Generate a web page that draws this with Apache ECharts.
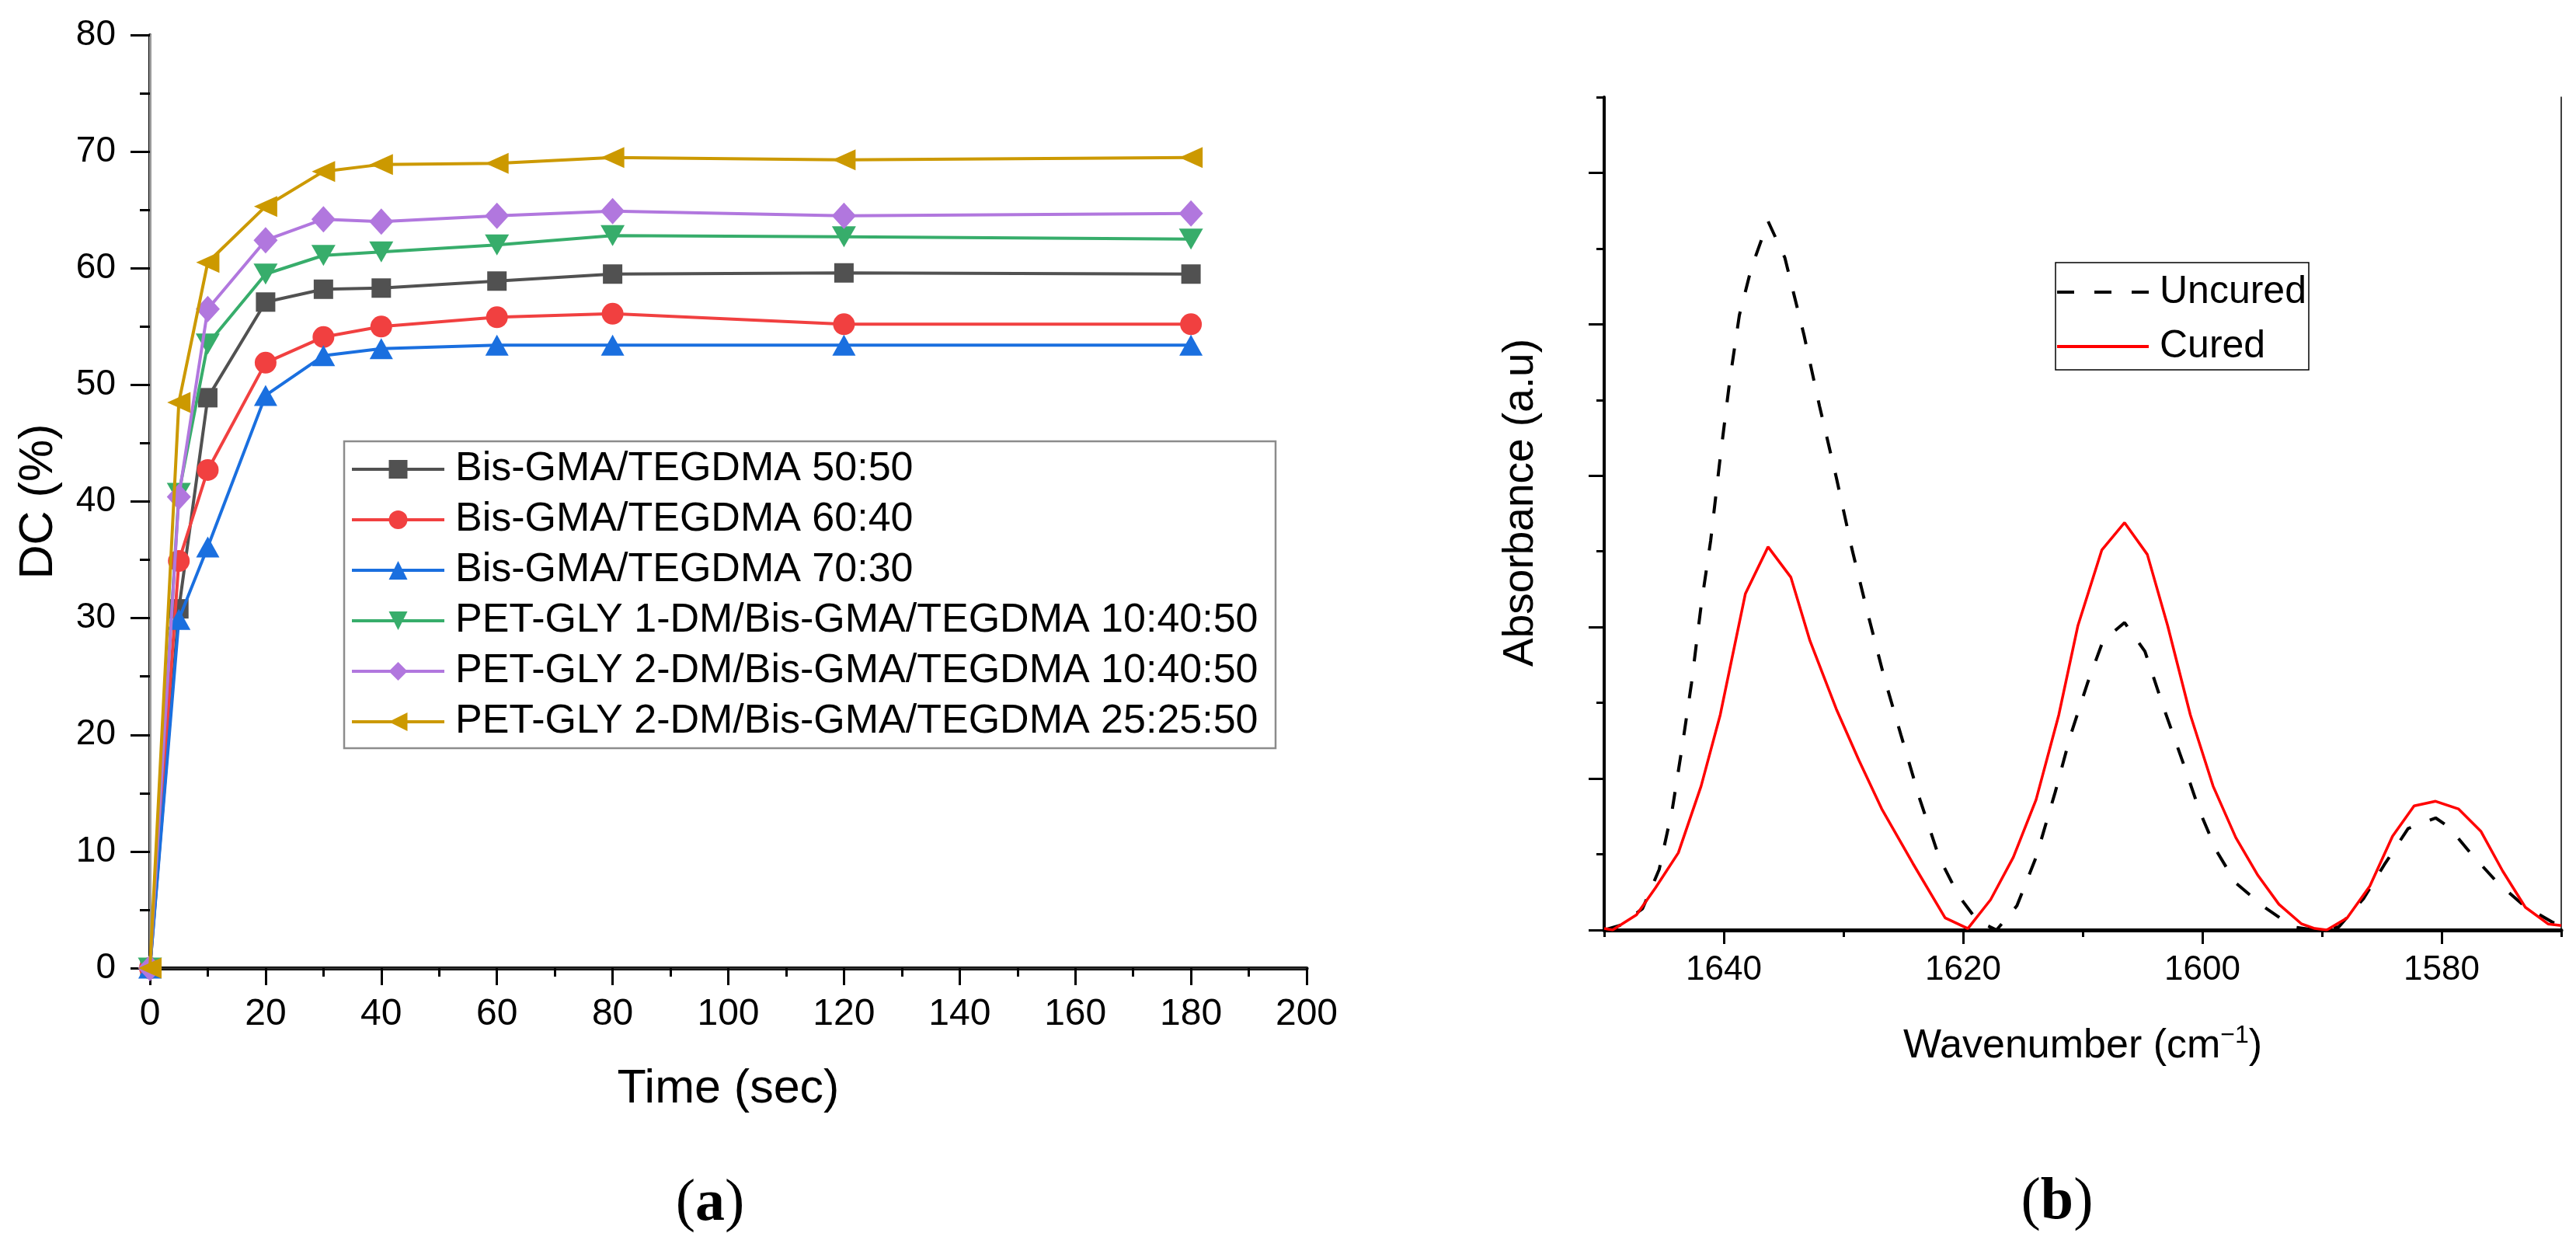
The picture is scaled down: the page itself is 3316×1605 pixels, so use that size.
<!DOCTYPE html>
<html>
<head>
<meta charset="utf-8">
<script src="https://cdn.jsdelivr.net/npm/echarts@6/dist/echarts.min.js"></script>
<style>
html,body{margin:0;padding:0;background:#fff;}
#chart{width:3316px;height:1605px;}
</style>
</head>
<body>
<div id="chart"></div>
<script>
// ---------- Panel (a): degree of conversion vs time ----------
const times = [0, 5, 10, 20, 30, 40, 60, 80, 120, 180];
const dc5050 = [0, 30.8, 48.9, 57.1, 58.2, 58.3, 58.9, 59.5, 59.6, 59.5];
const dc6040 = [0, 34.9, 42.7, 51.9, 54.1, 55.0, 55.8, 56.1, 55.2, 55.2];
const dc7030 = [0, 29.9, 36.1, 49.1, 52.5, 53.1, 53.4, 53.4, 53.4, 53.4];
const dcPet1_104050 = [0, 40.7, 53.5, 59.5, 61.1, 61.4, 62.0, 62.8, 62.7, 62.5];
const dcPet2_104050 = [0, 40.4, 56.5, 62.4, 64.2, 64.0, 64.5, 64.9, 64.5, 64.7];
const dcPet2_252550 = [0, 48.5, 60.5, 65.3, 68.3, 68.9, 69.0, 69.5, 69.3, 69.5];
const dcNames = [
  'Bis-GMA/TEGDMA 50:50',
  'Bis-GMA/TEGDMA 60:40',
  'Bis-GMA/TEGDMA 70:30',
  'PET-GLY 1-DM/Bis-GMA/TEGDMA 10:40:50',
  'PET-GLY 2-DM/Bis-GMA/TEGDMA 10:40:50',
  'PET-GLY 2-DM/Bis-GMA/TEGDMA 25:25:50'
];
const dcValues = [dc5050, dc6040, dc7030, dcPet1_104050, dcPet2_104050, dcPet2_252550];

// ---------- Panel (b): FTIR absorbance ----------
const uncuredWavenumber = [1650, 1648.7, 1646.8, 1645.4, 1644.3, 1643.5, 1642.7, 1641.9, 1641.1, 1640.3, 1639.5, 1638.7, 1637.7, 1636.3, 1634.9, 1633.3, 1632.0, 1630.6, 1629.3, 1628.0, 1626.6, 1625.2, 1623.6, 1622.0, 1620.4, 1618.8, 1617.2, 1615.5, 1613.9, 1612.3, 1611.0, 1609.6, 1608.3, 1606.5, 1604.8, 1603.2, 1601.5, 1600.2, 1598.8, 1597.2, 1594.8, 1592.4, 1590.6, 1588.6, 1586.5, 1584.8, 1582.8, 1580.5, 1579.4, 1577.6, 1575.3, 1573.1, 1570.7, 1570.0];
const uncuredAbs = [0.0, 0.03, 0.14, 0.40, 0.80, 1.20, 1.63, 2.14, 2.57, 3.12, 3.63, 4.06, 4.37, 4.68, 4.44, 3.93, 3.46, 2.99, 2.52, 2.10, 1.67, 1.29, 0.86, 0.48, 0.23, 0.06, 0.0, 0.16, 0.48, 0.91, 1.29, 1.63, 1.91, 2.03, 1.84, 1.46, 1.08, 0.78, 0.52, 0.31, 0.15, 0.02, 0.0, 0.02, 0.21, 0.43, 0.67, 0.74, 0.68, 0.51, 0.31, 0.16, 0.05, 0.04];
const curedWavenumber = [1650, 1649.3, 1647.3, 1645.7, 1643.8, 1641.9, 1640.3, 1638.2, 1636.3, 1634.4, 1632.8, 1630.6, 1628.7, 1626.8, 1624.2, 1621.5, 1619.6, 1617.7, 1615.8, 1613.9, 1612.0, 1610.4, 1608.4, 1606.5, 1604.6, 1602.9, 1601.0, 1599.1, 1597.2, 1595.35, 1593.6, 1591.7, 1590.6, 1589.6, 1587.9, 1586.0, 1584.1, 1582.3, 1580.5, 1578.6, 1576.7, 1574.9, 1573.0, 1571.1, 1570.0];
const curedAbs = [0.01, 0.0, 0.10, 0.28, 0.51, 0.95, 1.42, 2.22, 2.53, 2.33, 1.91, 1.46, 1.12, 0.80, 0.44, 0.08, 0.01, 0.20, 0.48, 0.86, 1.42, 2.01, 2.51, 2.69, 2.48, 2.01, 1.42, 0.95, 0.61, 0.36, 0.17, 0.04, 0.01, 0.0, 0.08, 0.29, 0.62, 0.82, 0.85, 0.80, 0.65, 0.39, 0.15, 0.04, 0.03];
const ftirNames = ['Uncured', 'Cured'];
const ftirMajorTicks = [1580, 1600, 1620, 1640];
const ftirMinorTicks = [1570, 1590, 1610, 1630, 1650];
const absMajorTicks = [0, 1, 2, 3, 4, 5];
const absMinorTicks = [0.5, 1.5, 2.5, 3.5, 4.5, 5.5];

const FONT = 'Liberation Sans, Arial, sans-serif';
const dcColors = ['#515151', '#F14040', '#1A6FDF', '#37AD6B', '#B177DE', '#CC9900'];
const dcSymbols = ['rect', 'circle', 'triangle', 'triangle', 'diamond', 'triangle'];
const dcRotate = [0, 0, 0, 180, 0, 90];
const dcSizes = [25, 28, [30, 27], [31, 27], [31, 34], [27, 30]];

const chart = echarts.init(document.getElementById('chart'), null, {renderer: 'canvas'});

const series = dcNames.map((name, k) => ({
  name: name,
  type: 'line',
  xAxisIndex: 0,
  yAxisIndex: 0,
  data: times.map((t, i) => [t, dcValues[k][i]]),
  symbol: dcSymbols[k],
  symbolSize: dcSizes[k],
  symbolRotate: dcRotate[k],
  showAllSymbol: true,
  clip: false,
  color: dcColors[k],
  lineStyle: {width: 4, color: dcColors[k]},
  itemStyle: {color: dcColors[k]},
  z: 3 + k
}));

series.push({
  name: ftirNames[0],
  type: 'line',
  xAxisIndex: 2,
  yAxisIndex: 2,
  data: uncuredWavenumber.map((w, i) => [w, uncuredAbs[i]]),
  showSymbol: false,
  symbol: 'none',
  color: '#000',
  lineStyle: {width: 4, color: '#000', type: [22, 26]},
  itemStyle: {color: '#000'},
  z: 3
});
series.push({
  name: ftirNames[1],
  type: 'line',
  xAxisIndex: 2,
  yAxisIndex: 2,
  data: curedWavenumber.map((w, i) => [w, curedAbs[i]]),
  showSymbol: false,
  symbol: 'none',
  color: '#FF0000',
  lineStyle: {width: 3.5, color: '#FF0000'},
  itemStyle: {color: '#FF0000'},
  z: 4
});

const blankAxis = {
  axisTick: {show: false},
  axisLabel: {show: false},
  splitLine: {show: false}
};

const option = {
  animation: false,
  backgroundColor: '#fff',
  textStyle: {fontFamily: FONT, color: '#000'},
  grid: [
    {left: 193, top: 45, width: 1489, height: 1201},
    {left: 2065, top: 125, width: 1232, height: 1072}
  ],
  xAxis: [
    {
      gridIndex: 0, type: 'value', min: 0, max: 200, interval: 20, position: 'bottom',
      axisLine: {lineStyle: {color: '#000', width: 5}},
      axisTick: {length: 22, lineStyle: {color: '#000', width: 3}},
      minorTick: {show: true, splitNumber: 2, length: 11, lineStyle: {color: '#000', width: 3}},
      axisLabel: {fontSize: 48, margin: 36, color: '#000', fontFamily: FONT},
      splitLine: {show: false},
      name: 'Time (sec)', nameLocation: 'middle', nameGap: 126,
      nameTextStyle: {fontSize: 61, color: '#000', fontFamily: FONT}
    },
    Object.assign({gridIndex: 0, type: 'value', min: 0, max: 200, position: 'top',
      axisLine: {lineStyle: {color: '#333', width: 2.5}}}, blankAxis),
    {
      gridIndex: 1, type: 'value', min: 1570, max: 1650, inverse: true, position: 'bottom',
      axisLine: {lineStyle: {color: '#000', width: 5}},
      axisTick: {length: 18, customValues: ftirMajorTicks, lineStyle: {color: '#000', width: 3}},
      axisLabel: {fontSize: 44, margin: 30, color: '#000', fontFamily: FONT,
        customValues: ftirMajorTicks, formatter: v => String(v)},
      splitLine: {show: false},
      name: '{a|Wavenumber (cm}{s|−1}{a|)}', nameLocation: 'middle', nameGap: 120,
      nameTextStyle: {
        fontFamily: FONT, color: '#000',
        rich: {
          a: {fontSize: 52, fontFamily: FONT, color: '#000', lineHeight: 60},
          s: {fontSize: 32, fontFamily: FONT, color: '#000', verticalAlign: 'top', lineHeight: 60}
        }
      }
    },
    {
      gridIndex: 1, type: 'value', min: 1570, max: 1650, inverse: true, position: 'bottom',
      axisLine: {show: false},
      axisTick: {length: 9, customValues: ftirMinorTicks, lineStyle: {color: '#000', width: 3}},
      axisLabel: {show: false},
      splitLine: {show: false}
    },
    Object.assign({gridIndex: 1, type: 'value', min: 1570, max: 1650, inverse: true, position: 'top',
      axisLine: {lineStyle: {color: '#000', width: 1.5}}}, blankAxis)
  ],
  yAxis: [
    {
      gridIndex: 0, type: 'value', min: 0, max: 80, interval: 10, position: 'left',
      axisLine: {lineStyle: {color: '#000', width: 4}},
      axisTick: {length: 25, lineStyle: {color: '#000', width: 3}},
      minorTick: {show: true, splitNumber: 2, length: 13, lineStyle: {color: '#000', width: 3}},
      axisLabel: {fontSize: 46, margin: 44, color: '#000', fontFamily: FONT},
      splitLine: {show: false},
      name: 'DC (%)', nameLocation: 'middle', nameGap: 112,
      nameTextStyle: {fontSize: 61, color: '#000', fontFamily: FONT}
    },
    Object.assign({gridIndex: 0, type: 'value', min: 0, max: 80, position: 'right',
      axisLine: {lineStyle: {color: '#9a9a9a', width: 3}}}, blankAxis),
    {
      gridIndex: 1, type: 'value', min: 0, max: 5.5, position: 'left',
      axisLine: {lineStyle: {color: '#000', width: 4}},
      axisTick: {length: 20, customValues: absMajorTicks, lineStyle: {color: '#000', width: 3}},
      axisLabel: {show: false},
      splitLine: {show: false},
      name: 'Absorbance (a.u)', nameLocation: 'middle', nameGap: 80,
      nameTextStyle: {fontSize: 55, color: '#000', fontFamily: FONT, padding: [0, 0, 0, 28]}
    },
    {
      gridIndex: 1, type: 'value', min: 0, max: 5.5, position: 'left',
      axisLine: {show: false},
      axisTick: {length: 10, customValues: absMinorTicks, lineStyle: {color: '#000', width: 3}},
      axisLabel: {show: false},
      splitLine: {show: false}
    },
    Object.assign({gridIndex: 1, type: 'value', min: 0, max: 5.5, position: 'right',
      axisLine: {lineStyle: {color: '#000', width: 1.5}}}, blankAxis)
  ],
  legend: [
    {
      data: dcNames, orient: 'vertical', left: 451, top: 578, padding: 0,
      itemWidth: 119, itemHeight: 30, itemGap: 13,
      lineStyle: {width: 4},
      textStyle: {fontSize: 52, lineHeight: 52, color: '#000', fontFamily: FONT, padding: [0, 0, 0, 9]},
      selectedMode: false
    },
    {
      data: ftirNames, orient: 'vertical', left: 2646, top: 351, padding: 0,
      itemWidth: 118, itemHeight: 4, itemGap: 20,
      lineStyle: {width: 4},
      textStyle: {fontSize: 50, lineHeight: 50, color: '#000', fontFamily: FONT, padding: [0, 0, 0, 9]},
      selectedMode: false
    }
  ],
  graphic: [
    {type: 'rect', shape: {x: 443, y: 568, width: 1199, height: 395},
     style: {fill: 'rgba(255,255,255,0)', stroke: '#8c8c8c', lineWidth: 2.5}, z: 1},
    {type: 'rect', shape: {x: 2646, y: 338, width: 326, height: 138},
     style: {fill: 'rgba(255,255,255,0)', stroke: '#000', lineWidth: 1.5}, z: 1},
    {type: 'text', x: 914, y: 1550,
     style: {text: '{p|(}{b|a}{p|)}', align: 'center', verticalAlign: 'middle',
       rich: {p: {fontFamily: 'Liberation Serif', fontSize: 76, color: '#000'},
              b: {fontFamily: 'Liberation Serif', fontSize: 76, fontWeight: 'bold', color: '#000'}}}},
    {type: 'text', x: 2648, y: 1548,
     style: {text: '{p|(}{b|b}{p|)}', align: 'center', verticalAlign: 'middle',
       rich: {p: {fontFamily: 'Liberation Serif', fontSize: 76, color: '#000'},
              b: {fontFamily: 'Liberation Serif', fontSize: 76, fontWeight: 'bold', color: '#000'}}}}
  ],
  series: series
};

chart.setOption(option);
</script>
</body>
</html>
